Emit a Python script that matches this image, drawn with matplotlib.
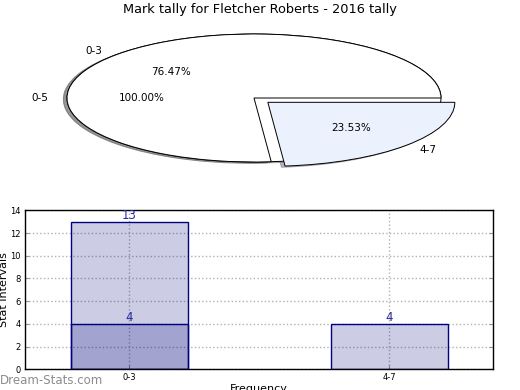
import matplotlib
matplotlib.use("Agg")
import matplotlib.pyplot as plt

# ---- data ----
title = "Mark tally for Fletcher Roberts - 2016 tally"
outer_labels = ["0-5"]
outer_values = [17]
inner_labels = ["0-3", "4-7"]
inner_values = [13, 4]
inner_explode = [0, 0.1]
inner_colors = ["#ffffff", "#ebf1fd"]

bar_categories = ["0-3", "4-7"]
bar_values = [13, 4]
overlay_values = [4, 0]
yticks = [0, 2, 4, 6, 8, 10, 12, 14]

W, H = 520, 390
fig = plt.figure(figsize=(W / 100, H / 100), dpi=100)

def fx(px):
    return px / W

def fy(py):
    return 1 - py / H

# ---- pie ----
cx, cy, rx, ry = 254, 98, 187, 64
ax1 = fig.add_axes([fx(cx - 1.25 * rx), fy(cy + 1.25 * ry), 2.5 * rx / W, 2.5 * ry / H])
shadow_style = dict(ox=-0.014, oy=-0.014, shade=0.55)
ax1.pie(outer_values, labels=outer_labels, colors=["#ffffff"], autopct="%1.2f%%",
        shadow=shadow_style, wedgeprops=dict(edgecolor="black", linewidth=0.7),
        textprops=dict(fontsize=7.5))
ax1.pie(inner_values, labels=inner_labels, colors=inner_colors, explode=inner_explode,
        autopct="%1.2f%%", shadow=shadow_style,
        wedgeprops=dict(edgecolor="black", linewidth=0.7),
        textprops=dict(fontsize=7.5))
ax1.set_aspect("auto")
ax1.set_xlim(-1.25, 1.25)
ax1.set_ylim(-1.25, 1.25)
ax1.axis("off")

fig.text(fx(260), fy(10), title, ha="center", va="center", fontsize=9.3)

# ---- bars ----
ax2 = fig.add_axes([fx(25), fy(369.3), 468.3 / W, 159 / H])
x = list(range(len(bar_categories)))
ax2.bar(x, bar_values, width=0.45, color="navy", alpha=0.2, zorder=2)
ax2.bar(x, bar_values, width=0.45, facecolor="none", edgecolor="navy", linewidth=1, zorder=3)
ov_x = [i for i, v in zip(x, overlay_values) if v > 0]
ov_v = [v for v in overlay_values if v > 0]
ax2.bar(ov_x, ov_v, width=0.45, color="navy", alpha=0.2, zorder=2)
ax2.bar(ov_x, ov_v, width=0.45, facecolor="none", edgecolor="navy", linewidth=1, zorder=3)
for i, v in zip(x, bar_values):
    ax2.text(i, v, str(v), ha="center", va="bottom", fontsize=8.5, color="#2828a0", zorder=4)
for i, v in zip(ov_x, ov_v):
    ax2.text(i, v, str(v), ha="center", va="bottom", fontsize=8.5, color="#2828a0", zorder=4)

ax2.set_xlim(-0.4, 1.4)
ax2.set_ylim(0, 14)
ax2.set_xticks(x)
ax2.set_xticklabels(bar_categories)
ax2.set_yticks(yticks)
ax2.tick_params(axis="both", labelsize=6, direction="in", color="#999999", length=3,
                right=True, top=False, pad=3)
ax2.grid(True, linestyle=":", color="#b0b0b0", linewidth=1, zorder=1)
ax2.set_axisbelow(True)
for s in ax2.spines.values():
    s.set_linewidth(1)
ax2.set_ylabel("Stat Intervals", fontsize=8)
ax2.yaxis.set_label_coords(-(25 - 9.5) / 468.3, 0.5)
ax2.set_xlabel("Frequency", fontsize=8)
ax2.xaxis.label.set_va("top")
ax2.xaxis.set_label_coords(0.5, -(383.5 - 369.3) / 159)

fig.text(fx(0), fy(380), "Dream-Stats.com", ha="left", va="center", fontsize=8.5,
         color="#8c8c8c")

fig.savefig("out.png", dpi=100)
